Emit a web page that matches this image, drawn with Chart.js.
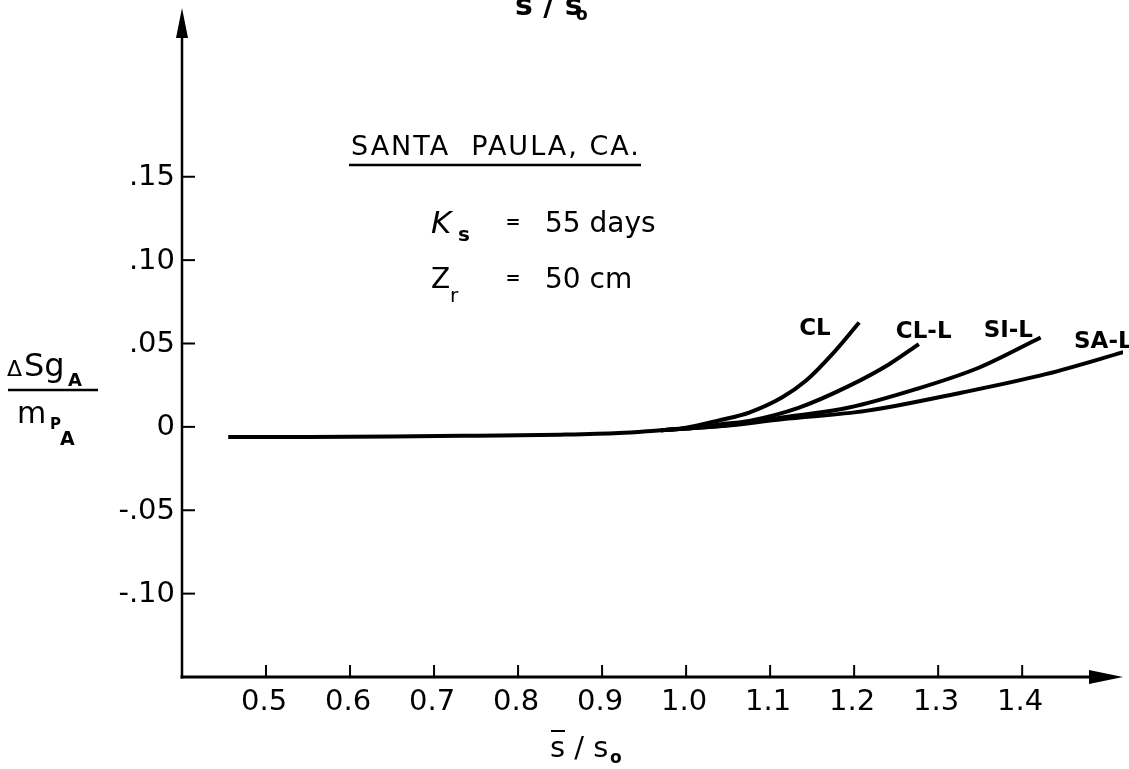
<!DOCTYPE html>
<html>
<head>
<meta charset="utf-8">
<script src="https://cdn.jsdelivr.net/npm/chart.js@4.4.1/dist/chart.umd.min.js"></script>
<style>
  html, body { margin: 0; padding: 0; background: #fff; }
  #wrap { width: 1129px; height: 769px; position: relative; }
</style>
</head>
<body>
<div id="wrap"><canvas id="chart" width="1129" height="769"></canvas></div>
<script>
// axis ticks
const xTickValues = [0.5, 0.6, 0.7, 0.8, 0.9, 1.0, 1.1, 1.2, 1.3, 1.4];
const xTickLabels = ['0.5', '0.6', '0.7', '0.8', '0.9', '1.0', '1.1', '1.2', '1.3', '1.4'];
const yTickValues = [0.15, 0.10, 0.05, 0, -0.05, -0.10];
const yTickLabels = ['.15', '.10', '.05', '0', '-.05', '-.10'];

// flat common part of the curves
const baseX = [0.455, 0.55, 0.65, 0.75, 0.85, 0.92, 0.97];
const baseY = [-0.006, -0.006, -0.0058, -0.0053, -0.0047, -0.0037, -0.002];

// soil curves
const clX = [0.97, 1.0, 1.04, 1.075, 1.114, 1.1425, 1.174, 1.206];
const clY = [-0.002, -0.0005, 0.004, 0.0086, 0.0176, 0.0276, 0.0436, 0.0626];
const cllX = [0.97, 1.0, 1.04, 1.075, 1.1345, 1.194, 1.2417, 1.277];
const cllY = [-0.002, -0.001, 0.0015, 0.0036, 0.0116, 0.0246, 0.0376, 0.0496];
const silX = [0.97, 1.0, 1.05, 1.114, 1.194, 1.2735, 1.349, 1.422];
const silY = [-0.002, -0.001, 0.001, 0.0056, 0.0116, 0.0226, 0.0356, 0.0536];
const salX = [0.97, 1.0, 1.05, 1.114, 1.214, 1.3286, 1.428, 1.526];
const salY = [-0.002, -0.001, 0.0008, 0.0046, 0.0096, 0.0206, 0.0316, 0.0456];

const curveNames = ['CL', 'CL-L', 'SI-L', 'SA-L'];

const toPts = (xs, ys) => xs.map((x, i) => ({ x: x, y: ys[i] }));

const FONT = '"DejaVu Sans", sans-serif';

const lineStyle = {
    borderColor: '#000',
    borderWidth: 4,
    pointRadius: 0,
    fill: false,
    showLine: true,
    cubicInterpolationMode: 'monotone'
};

// axes, ticks and lettering drawn on top of the scales
const drawing = {
    id: 'drawing',
    afterDraw(chart) {
        const ctx = chart.ctx;
        const xs = chart.scales.x, ys = chart.scales.y;
        const x0 = xs.getPixelForValue(0.4);
        const yb = ys.getPixelForValue(-0.15);
        const yt = ys.getPixelForValue(0.25);
        const xr = xs.getPixelForValue(1.52);
        ctx.save();
        ctx.strokeStyle = '#000';
        ctx.fillStyle = '#000';
        ctx.lineWidth = 2.5;
        ctx.lineCap = 'butt';

        // y axis with arrow
        ctx.beginPath();
        ctx.moveTo(x0, yb + 1.5);
        ctx.lineTo(x0, yt + 20);
        ctx.stroke();
        ctx.beginPath();
        ctx.moveTo(x0, yt - 2);
        ctx.lineTo(x0 + 6, yt + 28);
        ctx.lineTo(x0 - 6, yt + 28);
        ctx.closePath();
        ctx.fill();

        // x axis with arrow
        ctx.lineWidth = 3;
        ctx.beginPath();
        ctx.moveTo(x0 - 1.5, yb);
        ctx.lineTo(xr - 20, yb);
        ctx.stroke();
        ctx.beginPath();
        ctx.moveTo(xr, yb);
        ctx.lineTo(xr - 34, yb - 7);
        ctx.lineTo(xr - 34, yb + 7);
        ctx.closePath();
        ctx.fill();

        // ticks
        ctx.lineWidth = 2;
        ctx.font = '29px ' + FONT;
        ctx.textAlign = 'center';
        ctx.textBaseline = 'middle';
        xTickValues.forEach((v, i) => {
            const px = xs.getPixelForValue(v);
            ctx.beginPath();
            ctx.moveTo(px, yb);
            ctx.lineTo(px, yb - 12);
            ctx.stroke();
            ctx.fillText(xTickLabels[i], px - 2, yb + 25);
        });
        ctx.textAlign = 'right';
        yTickValues.forEach((v, i) => {
            const py = ys.getPixelForValue(v);
            ctx.beginPath();
            ctx.moveTo(x0, py);
            ctx.lineTo(x0 + 13, py);
            ctx.stroke();
            ctx.fillText(yTickLabels[i], x0 - 7, py + 1);
        });

        // curve names near their ends
        ctx.font = 'bold 23px ' + FONT;
        ctx.textAlign = 'left';
        ctx.textBaseline = 'alphabetic';
        const ends = [[clX, clY, -60, 13], [cllX, cllY, -23, -6], [silX, silY, -57, 0], [salX, salY, -54, -3]];
        ends.forEach((e, i) => {
            const px = xs.getPixelForValue(e[0][e[0].length - 1]);
            const py = ys.getPixelForValue(e[1][e[1].length - 1]);
            ctx.fillText(curveNames[i], px + e[2], py + e[3]);
        });

        // station block
        ctx.font = '27px ' + FONT;
        ctx.letterSpacing = '2px';
        ctx.fillText('SANTA  PAULA, CA.', 351, 155);
        ctx.letterSpacing = '0px';
        ctx.lineWidth = 2.5;
        ctx.beginPath();
        ctx.moveTo(349, 165);
        ctx.lineTo(641, 165);
        ctx.stroke();

        ctx.font = 'italic 31px ' + FONT;
        ctx.fillText('K', 431, 233);
        ctx.font = 'bold 20px ' + FONT;
        ctx.fillText('s', 458, 241);
        ctx.font = 'bold 18px ' + FONT;
        ctx.textAlign = 'center';
        ctx.fillText('=', 513, 228);
        ctx.fillText('=', 513, 284);
        ctx.textAlign = 'left';
        ctx.font = '28px ' + FONT;
        ctx.fillText('55 days', 545, 232);
        ctx.fillText('Z', 431, 288);
        ctx.font = '20px ' + FONT;
        ctx.fillText('r', 450, 302);
        ctx.font = '28px ' + FONT;
        ctx.fillText('50 cm', 545, 288);

        // y title as a fraction
        ctx.font = '22px ' + FONT;
        ctx.fillText('\u0394', 7, 376);
        ctx.font = '32px ' + FONT;
        ctx.fillText('Sg', 24, 376);
        ctx.font = 'bold 18px ' + FONT;
        ctx.fillText('A', 68, 386);
        ctx.lineWidth = 2.5;
        ctx.beginPath();
        ctx.moveTo(8, 390);
        ctx.lineTo(98, 390);
        ctx.stroke();
        ctx.font = '30px ' + FONT;
        ctx.fillText('m', 17, 423);
        ctx.font = 'bold 15px ' + FONT;
        ctx.fillText('P', 50, 429);
        ctx.font = 'bold 19px ' + FONT;
        ctx.fillText('A', 60, 445);

        // x title
        ctx.font = '29px ' + FONT;
        ctx.fillText('s / s', 550, 757);
        ctx.font = 'bold 17px ' + FONT;
        ctx.fillText('o', 610, 763);
        ctx.lineWidth = 2;
        ctx.beginPath();
        ctx.moveTo(551, 731);
        ctx.lineTo(565, 731);
        ctx.stroke();

        // cut-off title at the top
        ctx.font = 'bold 30px ' + FONT;
        ctx.fillText('s / s', 515, 15);
        ctx.font = 'bold 17px ' + FONT;
        ctx.fillText('o', 576, 20);

        ctx.restore();
    }
};

new Chart(document.getElementById('chart').getContext('2d'), {
    type: 'scatter',
    data: {
        datasets: [
            Object.assign({ label: 'base', data: toPts(baseX, baseY) }, lineStyle),
            Object.assign({ label: curveNames[0], data: toPts(clX, clY) }, lineStyle),
            Object.assign({ label: curveNames[1], data: toPts(cllX, cllY) }, lineStyle),
            Object.assign({ label: curveNames[2], data: toPts(silX, silY) }, lineStyle),
            Object.assign({ label: curveNames[3], data: toPts(salX, salY) }, lineStyle)
        ]
    },
    options: {
        responsive: false,
        animation: false,
        layout: { padding: { left: 182, right: 6, top: 10, bottom: 92 } },
        scales: {
            x: { type: 'linear', min: 0.4, max: 1.52, display: false },
            y: { type: 'linear', min: -0.15, max: 0.25, display: false }
        },
        plugins: { legend: { display: false }, tooltip: { enabled: false } }
    },
    plugins: [drawing]
});
</script>
</body>
</html>
